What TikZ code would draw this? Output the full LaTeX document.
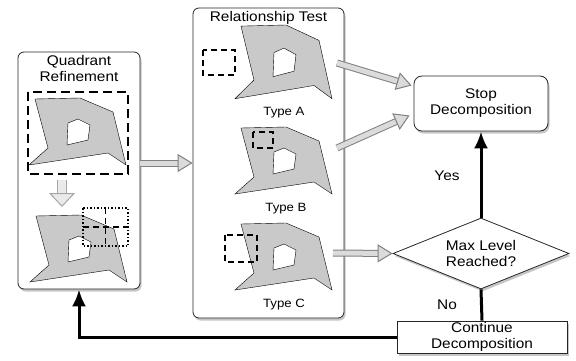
\documentclass[tikz,border=0pt]{standalone}
\usepackage{fontspec}
\setmainfont{Liberation Sans}[FakeStretch=1.1]
\usetikzlibrary{arrows.meta,calc,positioning,shapes.geometric,shadows}

\definecolor{parcelgray}{gray}{0.79}
\definecolor{hollowedge}{gray}{0.5}
\definecolor{hollowfill}{gray}{0.86}

% polygon with a hole, placed by its top left corner
\newcommand{\parcel}[2][1]{%
  \begin{scope}[shift={#2},yscale=#1]
    \draw[fill=parcelgray,even odd rule]
      (6,1) -- (51,0) -- (84,14) -- (97,67) -- (79,55) -- (0,67) -- (19,50) -- cycle
      (39,25) -- (49,21) -- (61,27) -- (59,42) -- (38,47) -- cycle;
  \end{scope}}

\begin{document}
\begin{tikzpicture}[
  x=1pt, y=-1pt,
  font=\fontsize{14}{16}\selectfont,
  myshadow/.style={drop shadow={shadow xshift=1.5pt, shadow yshift=-2.5pt, opacity=0.45}},
  panel/.style={
    draw=black!85,
    line width=0.8pt,
    rounded corners=6pt,
    fill=white,
    myshadow
    },
  box/.style={
    draw=black!85,
    line width=0.8pt,
    fill=white,
    align=center,
    inner sep=0pt,
    myshadow
    },
  decision/.style={
    draw=black!85,
    line width=0.8pt,
    fill=white,
    diamond,
    aspect=2.48,
    inner sep=0pt,
    align=center,
    minimum width=176pt,
    minimum height=71pt,
    myshadow
    },
  hollow/.style={
    draw=hollowedge,
    line width=1pt,
    double=hollowfill,
    double distance=5pt,
    -{Triangle[open, fill=hollowfill, length=15pt, width=18pt]}
    },
  bighollow/.style={
    draw=hollowedge!70,
    line width=1pt,
    double=hollowfill!60,
    double distance=8pt,
    -{Triangle[open, fill=hollowfill!60, length=14pt, width=26pt]}
    },
  flow/.style={line width=3pt, -{Latex[length=17pt, width=14pt]}},
  quadline/.style={line width=1.5pt, dash pattern=on 9pt off 5pt},
  testline/.style={line width=1.5pt, dash pattern=on 6pt off 4pt},
  typelabel/.style={font=\fontsize{12}{14}\selectfont}
]

\useasboundingbox (0,0) rectangle (576,361);

% panels
\node[panel, minimum width=122pt, minimum height=237pt] (quad) at (79,170.5) {};
\node[below, align=center] (quadtitle) at (quad.north) {Quadrant\\Refinement};

\node[panel, minimum width=151pt, minimum height=310pt] (rel) at (268.5,163) {};
\node[below] (reltitle) at (rel.north) {Relationship Test};

\node[panel, rounded corners=8pt, minimum width=134pt, minimum height=55pt, align=center]
  (stop) at (481,103.5) {Stop\\Decomposition};
\node[decision] (maxlevel) at (481,253.5) {Max Level\\Reached?};
\node[box, minimum width=170pt, minimum height=32pt] (cont) at (482,337) {Continue\\Decomposition};

% quadrant refinement
\parcel{(29,98)}
\draw[quadline] (28,92) rectangle (128,174);
\parcel{(30,215)}
\draw[line width=1.5pt, dotted] (83,208) rectangle (128,246);
\draw[testline] (83,227) -- (128,227) (105.5,208) -- (105.5,246);

% relationship test
\parcel[1.1]{(235,25)}
\draw[testline] (203,50) rectangle (235,75);
\node[typelabel] (typeA) at (284,113) {Type A};

\parcel{(235,127)}
\draw[testline] (253,132) rectangle (273,148);
\node[typelabel] (typeB) at (286,209) {Type B};

\parcel{(235,223)}
\draw[testline] (225,235) rectangle (257,262);
\node[typelabel] (typeC) at (284,305) {Type C};

% hollow arrows
\coordinate (qdownA) at (62,180);
\coordinate (qdownB) at (62,207);
\coordinate (outA) at (337,63);
\coordinate (outB) at (337,148);
\coordinate (outC) at (333,253);

\draw[bighollow] (qdownA) -- (qdownB);
\draw[hollow] (quad.east |- rel.west) -- (rel.west);
\draw[hollow] (outA) -- ($(stop.west)+(-2,-18)$);
\draw[hollow] (outB) -- ($(stop.west)+(-4,12)$);
\draw[hollow] (outC) -- (maxlevel.west);

% decisions
\draw[flow] (maxlevel.north) -- (stop.south);
\draw[line width=3pt] (maxlevel.south) -- (cont.north);
\draw[flow] (cont.west) -| (quad.south);

\node (yes) at (447,176) {Yes};
\node (no) at (447,305) {No};

\end{tikzpicture}
\end{document}
